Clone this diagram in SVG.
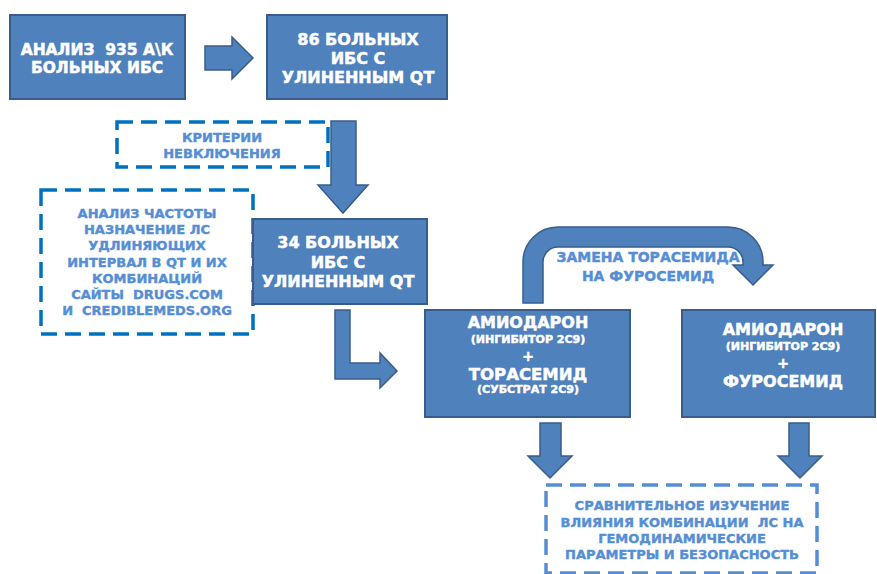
<svg xmlns="http://www.w3.org/2000/svg" width="877" height="574" viewBox="0 0 877 574">
<style>
.box{fill:#4F81BD;stroke:#385D8A;stroke-width:2}
.arr{fill:#4F81BD;stroke:#385D8A;stroke-width:1.5;stroke-linejoin:miter}
.dash{fill:none;stroke:#0070C0;stroke-width:3.5;stroke-dasharray:16 8}
.dash2{fill:none;stroke:#558ED5;stroke-width:3.5;stroke-dasharray:16 8}
text{font-family:"DejaVu Sans","Liberation Sans",sans-serif;font-weight:bold;text-anchor:middle;white-space:pre}
.w{fill:#fff;stroke:#fff;stroke-width:0.5}
.b{fill:#558ED5;stroke:#558ED5;stroke-width:0.4}
</style>
<rect width="877" height="574" fill="#fff"/>
<g id="connectors">
<path class="arr" d="M205,46 H232 V37 L253,58 L232,79 V70 H205 Z"/>
<path class="arr" d="M331,121 H356 V185 H368 L343,213 L318,185 H331 Z"/>
<path class="arr" d="M335,310 H350 V363 H380 V353 L397,371 L380,388 V379 H335 Z"/>
<path class="arr" d="M523,303 V262 A35,35 0 0 1 558,227 H728 A35,35 0 0 1 763,262 V265 H773 L753,285 L733,265 H743 V262 A15,15 0 0 0 728,247 H558 A15,15 0 0 0 543,262 V303 Z"/>
<path class="arr" d="M540,423 H561 V456 H572 L550,478 L528,456 H540 Z"/>
<path class="arr" d="M789,423 H809 V456 H822 L800,478 L778,456 H789 Z"/>
</g>
<g id="n1"><rect class="box" x="10" y="15" width="175" height="84"/>
<text class="w" font-size="15.5" x="97" y="55" xml:space="preserve">АНАЛИЗ  935 А\К</text>
<text class="w" font-size="15.5" x="97" y="73">БОЛЬНЫХ ИБС</text></g>
<g id="n2"><rect class="box" x="267" y="15" width="180" height="84"/>
<text class="w" font-size="16" x="358" y="45">86 БОЛЬНЫХ</text>
<text class="w" font-size="16" x="358" y="64">ИБС С</text>
<text class="w" font-size="16" x="358" y="83">УЛИНЕННЫМ QT</text></g>
<g id="n3"><rect class="dash" x="117" y="122" width="211" height="45"/>
<text class="b" font-size="13" x="222" y="142">КРИТЕРИИ</text>
<text class="b" font-size="13" x="222" y="158">НЕВКЛЮЧЕНИЯ</text></g>
<g id="n4"><rect class="dash" x="41" y="190" width="212" height="144"/>
<g class="b" font-size="13">
<text x="147" y="218">АНАЛИЗ ЧАСТОТЫ</text>
<text x="147" y="234">НАЗНАЧЕНИЕ ЛС</text>
<text x="147" y="250">УДЛИНЯЮЩИХ</text>
<text x="147" y="267">ИНТЕРВАЛ В QT И ИХ</text>
<text x="147" y="283">КОМБИНАЦИЙ</text>
<text x="147" y="299" xml:space="preserve">САЙТЫ  DRUGS.COM</text>
<text x="147" y="315" xml:space="preserve">И  CREDIBLEMEDS.ORG</text></g></g>
<g id="n5"><rect class="box" x="253" y="219" width="174" height="85"/>
<text class="w" font-size="16" x="338" y="248">34 БОЛЬНЫХ</text>
<text class="w" font-size="16" x="338" y="268">ИБС С</text>
<text class="w" font-size="16" x="338" y="287">УЛИНЕННЫМ QT</text></g>
<g id="n6"><rect class="box" x="425" y="310" width="205" height="107"/>
<text class="w" font-size="16" x="528" y="328">АМИОДАРОН</text>
<text class="w" font-size="11" x="528" y="343" stroke-width="0.3">(ИНГИБИТОР 2С9)</text>
<text class="w" font-size="14" x="528" y="361">+</text>
<text class="w" font-size="16.5" x="528" y="380">ТОРАСЕМИД</text>
<text class="w" font-size="11" x="528" y="393" stroke-width="0.3">(СУБСТРАТ 2С9)</text></g>
<g id="n7"><rect class="box" x="682" y="310" width="193" height="107"/>
<text class="w" font-size="16" x="783" y="335">АМИОДАРОН</text>
<text class="w" font-size="11" x="783" y="350" stroke-width="0.3">(ИНГИБИТОР 2С9)</text>
<text class="w" font-size="14" x="783" y="368">+</text>
<text class="w" font-size="16" x="783" y="387">ФУРОСЕМИД</text></g>
<g id="label"><text class="b" font-size="14" x="648" y="262">ЗАМЕНА ТОРАСЕМИДА</text>
<text class="b" font-size="14" x="648" y="281">НА ФУРОСЕМИД</text></g>
<g id="n8"><rect class="dash2" x="546" y="485" width="271" height="88"/>
<g class="b" font-size="13">
<text x="682" y="510">СРАВНИТЕЛЬНОЕ ИЗУЧЕНИЕ</text>
<text x="682" y="527" xml:space="preserve">ВЛИЯНИЯ КОМБИНАЦИИ  ЛС НА</text>
<text x="682" y="543">ГЕМОДИНАМИЧЕСКИЕ</text>
<text x="682" y="559">ПАРАМЕТРЫ И БЕЗОПАСНОСТЬ</text></g></g>
</svg>
